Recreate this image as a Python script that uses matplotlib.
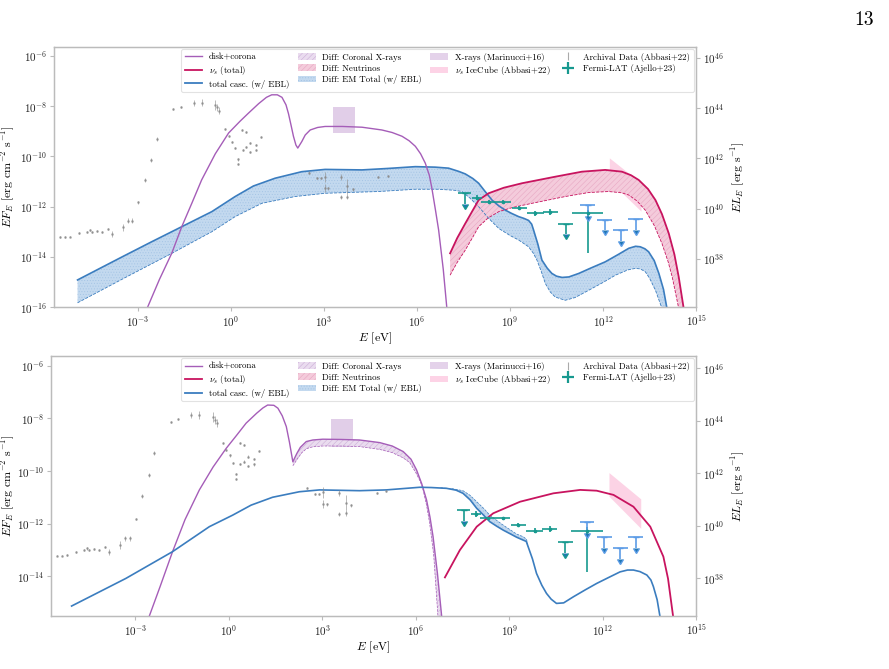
import numpy as np
import matplotlib
matplotlib.use('Agg')
import matplotlib.pyplot as plt
from matplotlib.patches import Patch
from matplotlib.lines import Line2D
from matplotlib.ticker import NullLocator

plt.rcParams['font.family'] = 'serif'
plt.rcParams['font.serif'] = ['cmr10', 'DejaVu Serif']
plt.rcParams['mathtext.fontset'] = 'cm'
plt.rcParams['axes.formatter.use_mathtext'] = True
plt.rcParams['hatch.linewidth'] = 0.35

# all values are log10(E / eV) and log10(E F_E / erg cm^-2 s^-1)

# ---- top panel ----
disk_top_x = [-2.68, -2.3, -1.9, -1.58, -1.25, -0.94, -0.5, -0.07, 0.3, 0.57, 0.9, 1.15, 1.32,
              1.5, 1.65, 1.78, 1.86, 1.95, 2.02, 2.1, 2.16, 2.22, 2.29, 2.4, 2.56, 2.8, 3.04,
              3.6, 4.23, 4.87, 5.2, 5.52, 5.75, 5.95, 6.12, 6.27, 6.4, 6.48, 6.6, 6.7, 6.85, 6.97]
disk_top_y = [-16.0, -14.9, -13.85, -12.8, -11.85, -10.94, -9.9, -9.07, -8.6, -8.28, -7.9, -7.65, -7.55,
              -7.55, -7.65, -7.95, -8.3, -8.8, -9.2, -9.55, -9.67, -9.55, -9.41, -9.15, -8.95, -8.85, -8.81,
              -8.81, -8.84, -8.95, -9.05, -9.2, -9.38, -9.6, -9.9, -10.27, -10.75, -11.25, -12.15, -12.93, -14.5, -16.1]

casc_top_hi_x = [-4.94, -3.5, -2.55, -1.58, -0.61, 0.14, 0.73, 1.43, 2.29, 3.04, 4.23, 5.09, 5.95,
                 6.59, 7.02, 7.35, 7.56, 7.8, 7.99, 8.2, 8.42, 8.65, 8.85, 9.05, 9.28, 9.45, 9.6,
                 9.7, 9.76, 9.9, 10.03, 10.2, 10.35, 10.5, 10.68, 10.9, 11.22, 11.6, 12.07, 12.5,
                 12.83, 13.05, 13.2, 13.35, 13.47, 13.65, 13.8, 13.95, 14.06]
casc_top_hi_y = [-14.92, -14.0, -13.4, -12.8, -12.2, -11.6, -11.18, -10.87, -10.61, -10.52, -10.54, -10.48, -10.41,
                 -10.43, -10.47, -10.6, -10.7, -10.88, -11.07, -11.4, -11.74, -11.98, -12.14, -12.27, -12.4, -12.47, -12.55,
                 -12.7, -12.93, -13.5, -14.13, -14.45, -14.66, -14.77, -14.82, -14.8, -14.66, -14.45, -14.2, -13.9,
                 -13.66, -13.58, -13.6, -13.68, -13.8, -14.15, -14.66, -15.3, -16.05]
casc_top_lo_x = [-4.94, -3.5, -1.9, -0.61, 0.14, 1.0, 2.07, 3.04, 4.76, 5.95, 6.7, 7.2, 7.45, 7.7,
                 7.99, 8.3, 8.64, 9.0, 9.28, 9.6, 9.75, 9.87, 10.0, 10.14, 10.3, 10.46, 10.78, 11.1,
                 11.54, 12.0, 12.4, 12.8, 13.04, 13.2, 13.36, 13.5, 13.69, 13.9]
casc_top_lo_y = [-15.83, -14.89, -13.86, -13.0, -12.4, -11.87, -11.6, -11.47, -11.4, -11.31, -11.31, -11.35, -11.4, -11.65,
                 -12.0, -12.45, -12.87, -13.15, -13.33, -13.6, -13.85, -14.13, -14.55, -15.06, -15.4, -15.6, -15.73, -15.62,
                 -15.33, -15.02, -14.73, -14.52, -14.46, -14.48, -14.59, -14.85, -15.33, -16.05]

nu_top_hi_x = [7.07, 7.3, 7.56, 7.8, 7.99, 8.31, 8.8, 9.39, 10.46, 11.32, 12.07, 12.61, 12.9, 13.15,
               13.45, 13.69, 13.9, 14.12, 14.3, 14.44, 14.6]
nu_top_hi_y = [-13.86, -13.25, -12.67, -12.15, -11.74, -11.47, -11.25, -11.07, -10.81, -10.61, -10.54, -10.61, -10.75, -10.94,
               -11.3, -11.74, -12.3, -13.07, -13.9, -14.8, -16.05]
nu_top_lo_x = [7.07, 7.3, 7.56, 7.8, 7.99, 8.3, 8.64, 9.1, 9.71, 10.78, 11.54, 12.18, 12.6, 12.83,
               13.1, 13.36, 13.65, 13.9, 14.1, 14.23, 14.44]
nu_top_lo_y = [-14.73, -14.22, -13.73, -13.22, -12.8, -12.45, -12.2, -12.03, -11.87, -11.6, -11.44, -11.4, -11.45, -11.54,
               -11.78, -12.14, -12.75, -13.47, -14.2, -14.8, -16.05]

# ---- bottom panel ----
disk_bot_x = [-2.57, -2.2, -1.8, -1.4, -0.94, -0.5, -0.08, 0.25, 0.56, 0.9, 1.1, 1.25, 1.45, 1.58,
              1.72, 1.85, 1.95, 2.06, 2.12, 2.19, 2.3, 2.49, 2.7, 3.02, 3.6, 4.2, 4.85, 5.25, 5.6,
              5.85, 6.03, 6.2, 6.35, 6.46, 6.56, 6.7, 6.85]
disk_bot_y = [-15.6, -14.4, -13.07, -11.85, -10.72, -9.85, -9.14, -8.65, -8.18, -7.8, -7.6, -7.49, -7.5, -7.61,
              -7.9, -8.31, -8.9, -9.65, -9.5, -9.33, -9.1, -8.88, -8.82, -8.79, -8.8, -8.82, -8.92, -9.05, -9.26,
              -9.55, -9.96, -10.5, -11.1, -11.75, -12.5, -13.9, -15.7]
disk_bot_lo_x = [2.06, 2.12, 2.2, 2.35, 2.5, 2.7, 3.02, 3.6, 4.2, 4.85, 5.25, 5.6, 5.81, 6.0, 6.15,
                 6.24, 6.35, 6.45, 6.58, 6.72]
disk_bot_lo_y = [-9.8, -9.7, -9.55, -9.3, -9.15, -9.08, -9.05, -9.05, -9.07, -9.18, -9.3, -9.5, -9.68, -10.05, -10.4,
                 -10.72, -11.3, -11.99, -13.2, -15.6]

casc_bot_x = [-5.04, -3.3, -1.8, -0.62, 0.13, 0.72, 1.41, 2.27, 2.92, 4.2, 5.06, 6.13, 6.5, 6.99, 7.3,
              7.52, 7.75, 7.96, 8.18, 8.38, 8.6, 8.81, 9.05, 9.24, 9.45, 9.55, 9.61, 9.75, 9.88, 10.05,
              10.2, 10.35, 10.52, 10.75, 11.06, 11.45, 11.81, 12.2, 12.56, 12.8, 12.99, 13.2, 13.42,
              13.55, 13.63, 13.75, 13.85]
casc_bot_y = [-15.14, -14.09, -13.07, -12.12, -11.68, -11.3, -11.0, -10.79, -10.72, -10.75, -10.72, -10.62, -10.63, -10.66, -10.73,
              -10.85, -11.1, -11.42, -11.68, -11.93, -12.1, -12.25, -12.4, -12.52, -12.63, -12.68, -12.88, -13.35, -13.9, -14.35,
              -14.66, -14.88, -15.04, -15.02, -14.79, -14.52, -14.28, -14.05, -13.84, -13.77, -13.77, -13.83, -13.96,
              -14.15, -14.4, -14.9, -15.6]
casc_bot_band_x = [6.8, 7.2, 7.52, 7.75, 7.96, 8.18, 8.38, 8.6, 8.81, 9.05, 9.24, 9.45, 9.56, 9.61]
casc_bot_band_y = [-10.64, -10.68, -10.75, -10.93, -11.17, -11.42, -11.68, -11.88, -12.06, -12.25, -12.4, -12.5, -12.6, -12.88]

nu_bot_x = [6.94, 7.42, 7.96, 8.49, 9.35, 10.42, 11.28, 11.81, 12.35, 12.99, 13.53, 13.95, 14.1, 14.27]
nu_bot_y = [-14.05, -13.01, -12.12, -11.61, -11.17, -10.85, -10.72, -10.75, -10.91, -11.36, -12.12, -13.26, -14.1, -15.6]

# ---- observations (same in both panels) ----
xray_box_x = [3.3, 4.0]
xray_box_y = [-9.07, -8.04]

icecube_x = [12.22, 13.24]
icecube_top = [-10.08, -11.08]
icecube_bot = [-10.98, -12.2]

fermi_x = [7.54, 7.93, 8.31, 8.79, 9.3, 9.82, 10.3, 10.8, 11.5]
fermi_dx = [0.2, 0.16, 0.24, 0.24, 0.24, 0.27, 0.24, 0.24, 0.5]
fermi_y = [-11.47, -11.64, -11.8, -11.8, -12.04, -12.27, -12.2, -12.69, -12.27]
fermi_dy_lo = [0, 0.1, 0.05, 0.05, 0.05, 0.1, 0.12, 0, 1.59]
fermi_dy_hi = [0, 0.1, 0.05, 0.05, 0.05, 0.1, 0.12, 0, 0.13]
fermi_ul = [True, False, False, False, False, False, False, True, False]

blue_ul_x = [11.5, 12.05, 12.57, 13.06]
blue_ul_dx = [0.24, 0.24, 0.24, 0.24]
blue_ul_y = [-11.94, -12.53, -12.93, -12.5]

arch_x = [-5.51, -5.35, -5.18, -4.89, -4.65, -4.55, -4.48, -4.32, -4.16, -3.97, -3.84, -3.48, -3.32, -3.17,
          -2.98, -2.78, -2.57, -2.39, -1.85, -1.61, -1.2, -0.94, -0.51, -0.45, -0.38, -0.18, -0.07, 0.03,
          0.14, 0.23, 0.22, 0.35, 0.48, 0.38, 0.48, 0.62, 0.62, 0.81, 0.81, 0.97, 2.53, 2.77, 2.91, 3.04,
          3.04, 3.15, 3.54, 3.54, 3.75, 3.75, 3.93, 4.76, 5.06]
arch_y = [-13.22, -13.22, -13.2, -13.07, -13.0, -12.95, -13.0, -12.97, -13.0, -12.9, -13.08, -12.83, -12.56, -12.56,
          -11.83, -10.94, -10.14, -9.32, -8.12, -8.02, -7.86, -7.86, -7.95, -8.05, -8.18, -8.92, -9.19, -9.41,
          -9.68, -10.12, -10.31, -8.95, -9.02, -9.75, -9.64, -9.45, -9.81, -9.55, -9.75, -9.24, -10.65, -10.87, -10.87, -10.81,
          -11.27, -11.27, -10.83, -11.63, -11.2, -11.6, -11.31, -10.83, -10.77]
arch_err = [0.03, 0.03, 0.03, 0.04, 0.04, 0.04, 0.04, 0.04, 0.04, 0.05, 0.12, 0.15, 0.1, 0.1,
            0.05, 0.08, 0.08, 0.08, 0.04, 0.04, 0.12, 0.15, 0.2, 0.15, 0.15, 0.04, 0.04, 0.04,
            0.04, 0.05, 0.05, 0.04, 0.04, 0.04, 0.04, 0.04, 0.04, 0.05, 0.05, 0.04, 0.05, 0.05, 0.05, 0.2,
            0.15, 0.05, 0.12, 0.08, 0.3, 0.1, 0.05, 0.04, 0.04]

x_ticks = [-3, 0, 3, 6, 9, 12, 15]
y_ticks = [-16, -14, -12, -10, -8, -6]
lum_ticks = [38, 40, 42, 44, 46]
lum_factor = 1.2e52   # 4 pi d^2 for NGC 1068

c_disk = '#a55db8'
c_nu = '#c8145f'
c_casc = '#3b7dbf'
c_fermi = '#17998f'
c_ul = '#5c9ce6'
c_arch = '#8c8c8c'

em_face, em_hatch = '#c3d9ef', '#a3c3e4'
nu_face, nu_hatch = '#f4cbdb', '#e6a3bf'
co_face, co_hatch = '#eadcef', '#c9a9d5'


def dex(a):
    return 10.0 ** np.asarray(a, dtype=float)


def fillBand(ax, xu, yu, xl, yl, face, edge, hatch):
    # polygon between two curves that have their own x grids
    xs = np.concatenate([np.asarray(xu), np.asarray(xl)[::-1]])
    ys = np.concatenate([np.asarray(yu), np.asarray(yl)[::-1]])
    ax.fill(dex(xs), dex(ys), facecolor=face, edgecolor=edge, hatch=hatch, linewidth=0, zorder=1)


def upperLimit(ax, lx, ldx, ly, color):
    x = 10.0 ** lx
    f = 10.0 ** ly
    xe = [[x - x * 10 ** -ldx], [x * 10 ** ldx - x]]
    ax.errorbar([x], [f], xerr=xe, fmt='none', ecolor=color, elinewidth=1.2, capsize=0, zorder=4)
    ax.errorbar([x], [f], yerr=[[f * (1 - 10 ** -0.42)], [0]], uplims=True, fmt='none',
                ecolor=color, elinewidth=1.2, capsize=2.2, zorder=4)


def drawData(ax):
    # X-ray box and IceCube butterfly
    ax.fill(dex([xray_box_x[0], xray_box_x[1], xray_box_x[1], xray_box_x[0]]),
            dex([xray_box_y[0], xray_box_y[0], xray_box_y[1], xray_box_y[1]]),
            facecolor='#dcc6e4', edgecolor='none', alpha=0.85, zorder=0.5)
    ax.fill(dex([icecube_x[0], icecube_x[1], icecube_x[1], icecube_x[0]]),
            dex([icecube_top[0], icecube_top[1], icecube_bot[1], icecube_bot[0]]),
            facecolor='#fcc8df', edgecolor='none', alpha=0.8, zorder=0.5)

    # archival data
    y = dex(arch_y)
    e = np.asarray(arch_err)
    ax.errorbar(dex(arch_x), y, yerr=[y - y * 10 ** -e, y * 10 ** e - y], fmt='o', ms=0.9,
                color=c_arch, elinewidth=0.6, capsize=0, alpha=0.7, zorder=3)

    # Fermi-LAT
    for i in range(len(fermi_x)):
        if fermi_ul[i]:
            upperLimit(ax, fermi_x[i], fermi_dx[i], fermi_y[i], c_fermi)
        else:
            x = 10.0 ** fermi_x[i]
            xe = [[x - x * 10 ** -fermi_dx[i]], [x * 10 ** fermi_dx[i] - x]]
            f = 10.0 ** fermi_y[i]
            ye = [[f - f * 10 ** -fermi_dy_lo[i]], [f * 10 ** fermi_dy_hi[i] - f]]
            ax.errorbar([x], [f], xerr=xe, yerr=ye, fmt='o', ms=1.6, color=c_fermi,
                        elinewidth=1.2, capsize=0, zorder=4)

    # other upper limits
    for i in range(len(blue_ul_x)):
        upperLimit(ax, blue_ul_x[i], blue_ul_dx[i], blue_ul_y[i], c_ul)


def styleAxes(ax, ylo, yhi, lab_left, lab_right):
    ax.set_xscale('log')
    ax.set_yscale('log')
    ax.set_xticks(dex(x_ticks))
    ax.set_yticks(dex(y_ticks))
    ax.set_xlim(10 ** -5.7, 1e15)
    ax.set_ylim(10 ** ylo, 10 ** yhi)
    ax.xaxis.set_minor_locator(NullLocator())
    ax.yaxis.set_minor_locator(NullLocator())
    for s in ax.spines.values():
        s.set_color('#bbbbbb')
        s.set_linewidth(0.9)
    ax.tick_params(colors='#bbbbbb', labelcolor='#222222', labelsize=8, length=3, width=0.8, pad=2)
    ax.set_xlabel(r'$E$ [eV]', fontsize=8.6, labelpad=1)
    ax.set_ylabel(r'$EF_E$ [erg cm$^{-2}$ s$^{-1}$]', fontsize=8.6)
    ax.yaxis.set_label_coords(lab_left, 0.5)

    ax2 = ax.twinx()
    ax2.set_yscale('log')
    ax2.set_yticks(dex(lum_ticks))
    ax2.set_ylim(10 ** ylo * lum_factor, 10 ** yhi * lum_factor)
    ax2.yaxis.set_minor_locator(NullLocator())
    for s in ax2.spines.values():
        s.set_color('#bbbbbb')
        s.set_linewidth(0.9)
    ax2.tick_params(colors='#bbbbbb', labelcolor='#222222', labelsize=8, length=3, width=0.8, pad=2)
    ax2.set_ylabel(r'$EL_E$ [erg s$^{-1}$]', fontsize=8.6)
    ax2.yaxis.set_label_coords(lab_right, 0.5)


def addLegend(ax):
    handles = [
        Line2D([], [], color=c_disk, lw=1.0),
        Line2D([], [], color=c_nu, lw=1.3),
        Line2D([], [], color=c_casc, lw=1.3),
        Patch(facecolor=co_face, edgecolor=co_hatch, hatch='//////', lw=0),
        Patch(facecolor=nu_face, edgecolor=nu_hatch, hatch='//////', lw=0),
        Patch(facecolor=em_face, edgecolor=em_hatch, hatch='......', lw=0),
        Patch(facecolor='#e4d2ea', edgecolor='none'),
        Patch(facecolor='#fdd3e6', edgecolor='none'),
        Line2D([], [], color='#aaaaaa', marker='|', ls='none', ms=6, mew=0.8),
        Line2D([], [], color=c_fermi, marker='+', ls='none', ms=8, mew=1.6),
    ]
    labels = ['disk+corona', r'$\nu_s$ (total)', 'total casc. (w/ EBL)',
              'Diff: Coronal X-rays', 'Diff: Neutrinos', 'Diff: EM Total (w/ EBL)',
              'X-rays (Marinucci+16)', r'$\nu_s$ IceCube (Abbasi+22)',
              'Archival Data (Abbasi+22)', 'Fermi-LAT (Ajello+23)']
    leg = ax.legend(handles, labels, ncol=4, loc='upper right', fontsize=6.4,
                    borderaxespad=0.25, handlelength=2.0, columnspacing=0.95,
                    labelspacing=0.28, handletextpad=0.75, framealpha=1, fancybox=True)
    leg.get_frame().set_edgecolor('#e2e2e2')
    leg.get_frame().set_linewidth(0.8)
    leg.set_zorder(10)


fig = plt.figure(figsize=(8.89, 6.69), dpi=100)
ax_top = fig.add_axes([0.0607, 0.541, 0.7223, 0.389])
ax_bot = fig.add_axes([0.0574, 0.0792, 0.7256, 0.3888])

# top panel
fillBand(ax_top, casc_top_hi_x, casc_top_hi_y, casc_top_lo_x, casc_top_lo_y,
         em_face, em_hatch, '......')
fillBand(ax_top, nu_top_hi_x, nu_top_hi_y, nu_top_lo_x, nu_top_lo_y,
         nu_face, nu_hatch, '//////')
ax_top.plot(dex(casc_top_hi_x), dex(casc_top_hi_y), color=c_casc, lw=1.2, zorder=2)
ax_top.plot(dex(casc_top_lo_x), dex(casc_top_lo_y), color=c_casc, lw=0.6, ls='--', zorder=2)
ax_top.plot(dex(nu_top_hi_x), dex(nu_top_hi_y), color=c_nu, lw=1.3, zorder=2)
ax_top.plot(dex(nu_top_lo_x), dex(nu_top_lo_y), color=c_nu, lw=0.6, ls='--', zorder=2)
ax_top.plot(dex(disk_top_x), dex(disk_top_y), color=c_disk, lw=1.0, zorder=2)
drawData(ax_top)
styleAxes(ax_top, -16.0, -5.64, -0.057, 1.052)
addLegend(ax_top)

# bottom panel
mask = np.asarray(disk_bot_x) >= disk_bot_lo_x[0]
fillBand(ax_bot, np.asarray(disk_bot_x)[mask], np.asarray(disk_bot_y)[mask],
         disk_bot_lo_x, disk_bot_lo_y, co_face, co_hatch, '//////')
ax_bot.plot(dex(disk_bot_lo_x), dex(disk_bot_lo_y), color=c_disk, lw=0.5, ls='--', zorder=2)
ax_bot.plot(dex(disk_bot_x), dex(disk_bot_y), color=c_disk, lw=1.0, zorder=2)

band_lo = np.interp(casc_bot_band_x, casc_bot_x, casc_bot_y)
fillBand(ax_bot, casc_bot_band_x, casc_bot_band_y, casc_bot_band_x, band_lo,
         em_face, em_hatch, '......')
ax_bot.plot(dex(casc_bot_band_x), dex(casc_bot_band_y), color=c_casc, lw=0.5, ls='--', zorder=2)
ax_bot.plot(dex(casc_bot_x), dex(casc_bot_y), color=c_casc, lw=1.2, zorder=2)
ax_bot.plot(dex(nu_bot_x), dex(nu_bot_y), color=c_nu, lw=1.3, zorder=2)
drawData(ax_bot)
styleAxes(ax_bot, -15.52, -5.62, -0.053, 1.052)
addLegend(ax_bot)

# page number of the paper
fig.text(0.983, 0.983, '13', ha='right', va='top', fontsize=14)

fig.savefig('out.png', dpi=100)
